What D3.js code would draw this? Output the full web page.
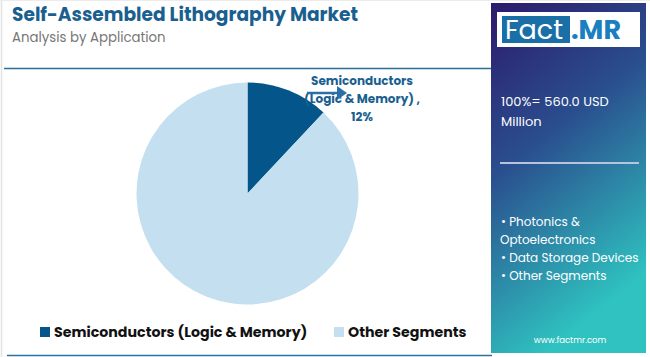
<!DOCTYPE html>
<html><head><meta charset="utf-8">
<script src="https://cdn.jsdelivr.net/npm/d3@7"></script>
<style>
html,body{margin:0;padding:0;background:#fff;}
svg{display:block;}
</style></head>
<body>
<svg id="chart" width="650" height="357"></svg>
<script>
const categories = ["Semiconductors (Logic & Memory)", "Other Segments"];
const shares = [12, 88];
const colors = ["#03558a", "#c4e0f0"];
const totalText = ["100%= 560.0 USD", "Million"];
const sideList = ["• Photonics &", "Optoelectronics", "• Data Storage Devices", "• Other Segments"];

const svg = d3.select("#chart");
const font = "Poppins, 'Open Sans', 'Noto Sans', sans-serif";

// card borders
svg.append("line").attr("x1",1.5).attr("x2",1.5).attr("y1",0).attr("y2",357).attr("stroke","#e2e2e2").attr("stroke-width",1.5);
svg.append("line").attr("x1",0).attr("x2",650).attr("y1",0.5).attr("y2",0.5).attr("stroke","#ececec");
svg.append("line").attr("x1",4).attr("x2",491).attr("y1",68.5).attr("y2",68.5).attr("stroke","#2a6f9c").attr("stroke-width",1.5);
svg.append("line").attr("x1",7).attr("x2",492).attr("y1",355.5).attr("y2",355.5).attr("stroke","#2a73a0").attr("stroke-width",1.5);

// title
svg.append("text").attr("x",12).attr("y",21).text("Self-Assembled Lithography Market")
  .attr("font-family",font).attr("font-weight",700).attr("font-size",18.6).attr("fill","#1a5f8f");
svg.append("text").attr("x",12).attr("y",42).text("Analysis by Application")
  .attr("font-family",font).attr("font-size",13.3).attr("fill","#777");

// side panel
const defs = svg.append("defs");
const g = defs.append("linearGradient").attr("id","pg").attr("x1","0").attr("y1","0").attr("x2","0.35").attr("y2","1");
g.append("stop").attr("offset","0").attr("stop-color","#2c1a6c");
g.append("stop").attr("offset","0.45").attr("stop-color","#2a4f8e");
g.append("stop").attr("offset","1").attr("stop-color","#2fc2c0");
svg.append("rect").attr("x",491).attr("y",3).attr("width",155).attr("height",350).attr("fill","url(#pg)");
svg.append("rect").attr("x",497).attr("y",12).attr("width",143).attr("height",35).attr("fill","#fff");
svg.append("rect").attr("x",502).attr("y",16).attr("width",68).attr("height",27).attr("fill","#1a6fa6");
svg.append("text").attr("x",505).attr("y",39).text("Fact").attr("font-family",font).attr("font-size",27).attr("fill","#fff");
svg.append("text").attr("x",571).attr("y",39).text(".MR").attr("font-family",font).attr("font-weight",700).attr("font-size",27).attr("fill","#1a7fc0");

svg.selectAll(".tot").data(totalText).join("text").attr("class","tot")
  .attr("x",501).attr("y",(d,i)=>106+i*20).text(d=>d)
  .attr("font-family",font).attr("font-size",13).attr("fill","#fff");
svg.append("line").attr("x1",500).attr("x2",639).attr("y1",163).attr("y2",163).attr("stroke","#b9c3df").attr("stroke-width",2);
svg.selectAll(".sl").data(sideList).join("text").attr("class","sl")
  .attr("x",(d,i)=>i===1?500:501).attr("y",(d,i)=>226+i*18).text(d=>d)
  .attr("font-family",font).attr("font-size",12).attr("fill","#fff");
svg.append("text").attr("x",570).attr("y",343).attr("text-anchor","middle").text("www.factmr.com")
  .attr("font-family",font).attr("font-size",8.5).attr("fill","#fff");

// pie
const cx = 247.5, cy = 193.5, r = 111;
const pie = d3.pie().sort(null).value(d=>d)(shares);
const arc = d3.arc().innerRadius(0).outerRadius(r);
svg.append("g").attr("transform",`translate(${cx},${cy})`)
  .selectAll("path").data(pie).join("path").attr("d",arc).attr("fill",(d,i)=>colors[i]);

// label
const lbl = ["Semiconductors", "(Logic & Memory) ,", shares[0] + "%"];
svg.selectAll(".pl").data(lbl).join("text").attr("class","pl")
  .attr("x",362).attr("y",(d,i)=>85+i*18).attr("text-anchor","middle").text(d=>d)
  .attr("font-family",font).attr("font-weight",700).attr("font-size",12).attr("fill","#1a5f8f");
svg.append("line").attr("x1",307).attr("x2",338).attr("y1",93).attr("y2",93).attr("stroke","#2a6fa8").attr("stroke-width",2.5);
svg.append("path").attr("d","M337,86 L347,93 L337,100 Z").attr("fill","#2a6fa8");

// legend
const legX = [40, 334];
const leg = svg.selectAll(".lg").data(categories).join("g").attr("class","lg")
  .attr("transform",(d,i)=>`translate(${legX[i]},327)`);
leg.append("rect").attr("width",10).attr("height",10).attr("fill",(d,i)=>colors[i]);
leg.append("text").attr("x",14).attr("y",10).text(d=>d)
  .attr("font-family",font).attr("font-weight",700).attr("font-size",14.2).attr("fill","#111");
</script>
</body></html>
